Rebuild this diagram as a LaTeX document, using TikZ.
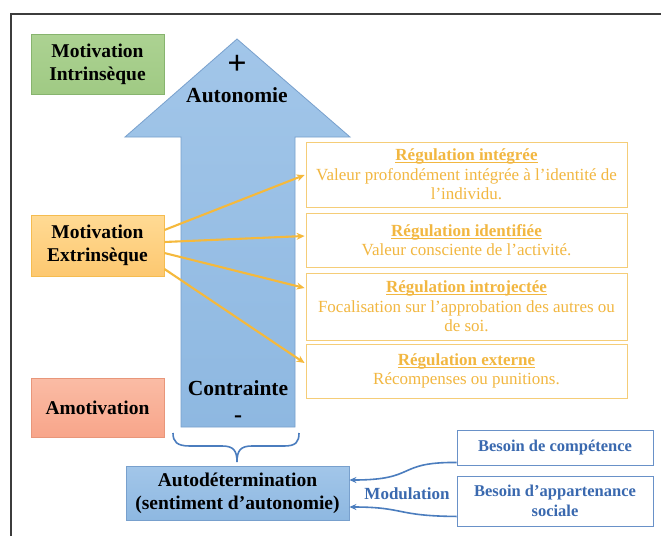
\documentclass[tikz,border=0pt]{standalone}
\usepackage{fontspec}
\setmainfont{Liberation Serif}
\usetikzlibrary{arrows.meta}
\definecolor{frame}{RGB}{60,60,60}
\definecolor{gfill}{RGB}{172,210,146}
\definecolor{gfillb}{RGB}{160,202,132}
\definecolor{gline}{RGB}{135,180,110}
\definecolor{ofill}{RGB}{255,218,148}
\definecolor{ofillb}{RGB}{253,200,112}
\definecolor{oline}{RGB}{245,188,80}
\definecolor{sfill}{RGB}{250,188,165}
\definecolor{sfillb}{RGB}{248,165,138}
\definecolor{sline}{RGB}{232,150,122}
\definecolor{bfill}{RGB}{162,198,233}
\definecolor{bfillb}{RGB}{142,184,225}
\definecolor{bline}{RGB}{120,160,205}
\definecolor{otext}{RGB}{242,183,65}
\definecolor{oarr}{RGB}{245,185,60}
\definecolor{regline}{RGB}{245,205,120}
\definecolor{btext}{RGB}{58,105,175}
\definecolor{bbox}{RGB}{105,145,200}
\definecolor{barr}{RGB}{75,125,190}
\newcommand{\ulin}[1]{\setbox0\hbox{#1}\rlap{\rule[-2.4pt]{\wd0}{1pt}}\box0}
\begin{document}
\begin{tikzpicture}[x=1pt,y=-1pt,
  bigfont/.style={font=\fontsize{19.5}{23}\selectfont\bfseries},
  arrfont/.style={font=\fontsize{21.5}{24}\selectfont\bfseries, inner sep=0pt, align=center},
  motbox/.style={bigfont, inner sep=0pt, align=center, minimum width=133pt, line width=0.8pt},
  regbox/.style={draw=regline, line width=0.9pt, inner sep=0pt, align=center, minimum width=321pt,
     text=otext, font=\fontsize{17}{19.5}\selectfont},
  needbox/.style={draw=bbox, line width=0.9pt, inner sep=0pt, align=center, minimum width=196pt,
     text=btext, font=\fontsize{16.5}{20}\selectfont\bfseries},
  oarrow/.style={draw=oarr, line width=2.1pt, -{Stealth[length=8pt,width=7pt]}},
  barrow/.style={draw=barr, line width=1.6pt, -{Stealth[length=7pt,width=6pt]}},
  bluetxt/.style={text=btext, font=\fontsize{17}{20}\selectfont\bfseries, inner sep=0pt}
]
\useasboundingbox (0,0) rectangle (661,536);
\fill[white] (0,0) rectangle (661,536);
% frame
\draw[frame, line width=1.3pt] (11,536) -- (11,14) -- (661,14);

% big arrow
\path[draw=bline, line width=0.8pt, top color=bfill, bottom color=bfillb]
  (237,39) -- (350,137) -- (295,137) -- (295,427) -- (181,427) -- (181,137) -- (125,137) -- cycle;
\node[arrfont, font=\fontsize{34}{34}\selectfont\bfseries] (plus) at (237,65) {+};
\node[arrfont] (auto) at (237,95) {Autonomie};
\node[arrfont, anchor=base] (contr) at (238,422) {Contrainte\\[3pt]{\fontsize{24}{24}\selectfont -}};

% motivation boxes
\node[motbox, draw=gline, top color=gfill, bottom color=gfillb, minimum height=60pt] (mi) at (97.5,64) {Motivation\\Intrinsèque};
\node[motbox, draw=oline, top color=ofill, bottom color=ofillb, minimum height=61pt] (me) at (97.5,245.5) {Motivation\\Extrinsèque};
\node[motbox, draw=sline, top color=sfill, bottom color=sfillb, minimum height=59pt] (am) at (97.5,407.5) {Amotivation};

% regulation boxes
\node[regbox, minimum height=65pt] (r1) at (466.5,174.5) {\textbf{\ulin{Régulation intégrée}}\\Valeur profondément intégrée à l’identité de\\l’individu.};
\node[regbox, minimum height=54pt] (r2) at (466.5,240) {\textbf{\ulin{Régulation identifiée}}\\Valeur consciente de l’activité.};
\node[regbox, minimum height=67pt] (r3) at (466.5,306.5) {\textbf{\ulin{Régulation introjectée}}\\Focalisation sur l’approbation des autres ou\\de soi.};
\node[regbox, minimum height=54pt] (r4) at (466.5,371) {\textbf{\ulin{Régulation externe}}\\Récompenses ou punitions.};

% orange arrows
\draw[oarrow] ([yshift=15.5pt]me.east) -- ([yshift=-0.5pt,xshift=-1pt]r1.west);
\draw[oarrow] ([yshift=3.5pt]me.east) -- ([yshift=4pt,xshift=-1pt]r2.west);
\draw[oarrow] ([yshift=-7.5pt]me.east) -- ([yshift=18.5pt,xshift=-1pt]r3.west);
\draw[oarrow] ([yshift=-23.5pt]me.east) -- ([yshift=8pt,xshift=-1pt]r4.west);

% brace
\coordinate (bl) at (173,433);
\coordinate (br) at (299,433);
\coordinate (bt) at (237,462);
\draw[barr, line width=1.6pt]
  (bl) .. controls (173,442) and (177,446) .. (190,446) -- (222,446)
  .. controls (233,446) and (237,450) .. (bt)
  .. controls (237,450) and (241,446) .. (252,446) -- (284,446)
  .. controls (296,446) and (299,442) .. (br);

% autodetermination
\node[motbox, draw=bline, top color=bfill, bottom color=bfillb, minimum width=223pt, minimum height=54pt] (ad) at (237.5,493) {Autodétermination\\(sentiment d’autonomie)};

% needs
\node[needbox, minimum height=35pt] (bc) at (555,447.5) {Besoin de compétence};
\node[needbox, minimum height=50pt] (ba) at (555,501) {Besoin d’appartenance\\sociale};
\node[bluetxt] (mod) at (407,494) {Modulation};

\draw[barrow] ([yshift=3pt]bc.south west) .. controls (395,462) and (418,480) .. ([yshift=13pt]ad.east);
\draw[barrow] ([yshift=10pt]ba.south west) .. controls (395,516) and (405,507) .. ([yshift=-14pt]ad.east);
\end{tikzpicture}
\end{document}
